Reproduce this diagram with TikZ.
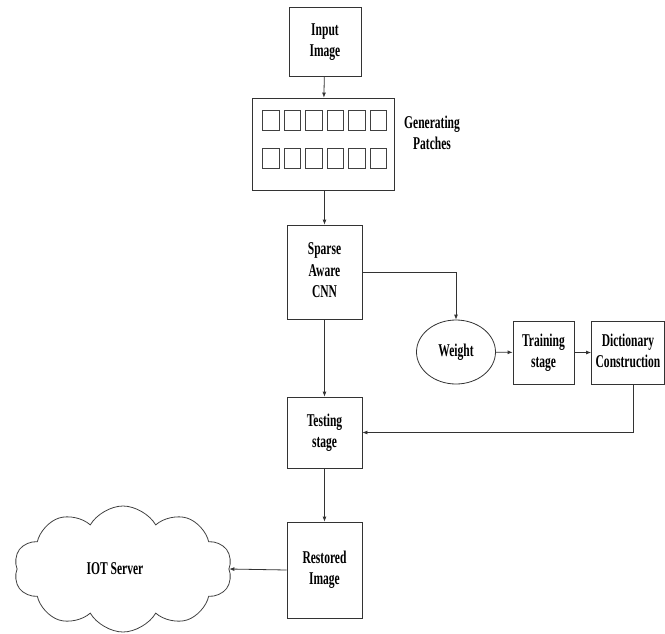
\documentclass[tikz,border=0pt]{standalone}
\usepackage{fontspec}
\setmainfont{Liberation Serif}
\usetikzlibrary{arrows.meta,shapes.geometric,shapes.symbols}
% narrow bold label, one or more lines
\newcommand{\lbl}[1]{\scalebox{0.64}[1]{\begin{tabular}{@{}c@{}}#1\end{tabular}}}
\tikzset{
  x=1pt, y=-1pt,
  every node/.style={font=\fontsize{18}{22.5}\selectfont\bfseries, inner sep=0pt, align=center},
  box/.style={draw=black!80, line width=0.8pt, rectangle, fill=white},
  patch/.style={draw=black!75, line width=0.7pt, rectangle, minimum width=16.5pt, minimum height=20pt},
  conn/.style={draw=black!80, line width=0.8pt, -{Latex[length=5pt,width=4pt]}},
}
\begin{document}
\begin{tikzpicture}
\useasboundingbox (0,0) rectangle (665,633);
\renewcommand{\arraystretch}{0.95}

% main column
\node[box, minimum width=72pt, minimum height=69pt] (input) at (325,41.5) {\lbl{Input\\Image}};
\node[box, minimum width=142pt, minimum height=92pt] (patches) at (323,144) {};
\foreach \i in {0,...,5} {
  \node[patch] (pa\i) at ({271+21.5*\i},120) {};
  \node[patch] (pb\i) at ({271+21.5*\i},158) {};
}
\node[anchor=west] (gplabel) at (404,135) {\lbl{Generating\\Patches}};
\node[box, minimum width=75pt, minimum height=94pt] (sparse) at (324.5,272) {\lbl{Sparse\\Aware\\CNN}};
\node[box, minimum width=75pt, minimum height=71pt] (testing) at (324.5,432.5) {\lbl{Testing\\stage}};
\node[box, minimum width=75pt, minimum height=96pt] (restored) at (324.5,570) {\lbl{Restored\\Image}};

% training branch
\node[draw=black!80, line width=0.8pt, ellipse, minimum width=79pt, minimum height=64pt] (weight) at (456,352) {\lbl{Weight}};
\node[box, minimum width=61pt, minimum height=63pt] (training) at (543.5,352.5) {\lbl{Training\\stage}};
\node[box, minimum width=73pt, minimum height=63pt] (dict) at (628,352.5) {\lbl{Dictionary\\Construction}};
\coordinate (dictout) at (633,384);

% cloud
\node[draw=black!75, line width=0.8pt, cloud, cloud puffs=10, cloud puff arc=120, aspect=1.8,
      minimum width=218pt, minimum height=126pt] (iot) at (123,569) {};
\node (iotlabel) at (115,570) {\lbl{IOT Server}};

% connectors
\draw[conn] (input) -- (patches);
\draw[conn] (patches.south -| sparse.north) -- (sparse.north);
\draw[conn] (sparse) -- (testing);
\draw[conn] (sparse.east) -| (weight.north);
\draw[conn] (weight) -- (training);
\draw[conn] (training) -- (dict);
\draw[conn] (dictout) |- (testing.east);
\draw[conn] (testing) -- (restored);
\draw[conn] (restored.west) -- (iot.east);
\end{tikzpicture}
\end{document}
